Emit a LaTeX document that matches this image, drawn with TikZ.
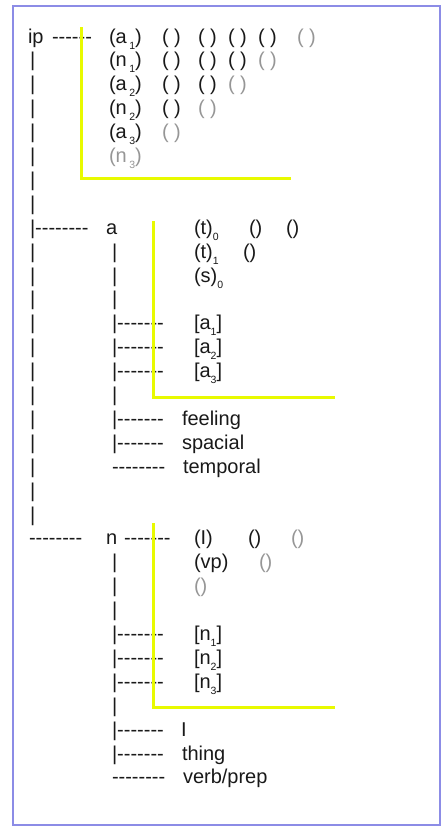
\documentclass[tikz,border=0pt]{standalone}
\usepackage{fontspec}
\setmainfont{Liberation Sans}[Ligatures=TeXOff]
\definecolor{frameblue}{RGB}{140,140,230}
\definecolor{hilite}{RGB}{232,250,0}
\definecolor{txtgray}{RGB}{150,150,150}
\newcommand\mysub[1]{\raisebox{-6pt}{\fontsize{10.5}{10.5}\selectfont #1}}
\newcommand\psb[2]{(#1\kern2.5pt\mysub{#2})}
\newcommand\bsb[2]{[#1\mysub{#2}]}
\begin{document}
\begin{tikzpicture}[x=1pt,y=-1pt,
  txt/.style={anchor=base west,inner sep=0pt,outer sep=0pt,font=\fontsize{20}{24}\selectfont,text=black!90},
  faint/.style={txt,text=txtgray},
  hl/.style={draw=hilite,line width=3pt},
  frm/.style={draw=frameblue,line width=2.5pt}]
\useasboundingbox (0,0) rectangle (442,827);
\draw[frm] (13,6) rectangle (440,825);
% ---------- ip block ----------
\node[txt] (ip) at (28,43) {ip};
\node[txt] (ipdash) at (52,43) {------};
\node[txt] (ra1) at (109,43) {\psb{a}{1}};
\node[txt] (r0c1) at (162,43) {( )};
\node[txt] (r0c2) at (198,43) {( )};
\node[txt] (r0c3) at (228,43) {( )};
\node[txt] (r0c4) at (258,43) {( )};
\node[faint] (r0c5) at (297,43) {( )};
\node[txt] (rn1) at (109,66.9) {\psb{n}{1}};
\node[txt] (r1c1) at (162,66.9) {( )};
\node[txt] (r1c2) at (198,66.9) {( )};
\node[txt] (r1c3) at (228,66.9) {( )};
\node[faint] (r1c4) at (258,66.9) {( )};
\node[txt] (ra2) at (109,90.8) {\psb{a}{2}};
\node[txt] (r2c1) at (162,90.8) {( )};
\node[txt] (r2c2) at (198,90.8) {( )};
\node[faint] (r2c3) at (228,90.8) {( )};
\node[txt] (rn2) at (109,114.7) {\psb{n}{2}};
\node[txt] (r3c1) at (162,114.7) {( )};
\node[faint] (r3c2) at (198,114.7) {( )};
\node[txt] (ra3) at (109,138.6) {\psb{a}{3}};
\node[faint] (r4c1) at (162,138.6) {( )};
\node[faint] (rn3) at (109,162.5) {\psb{n}{3}};
% ---------- left column bars ----------
\foreach \k in {1,...,7,9,10,...,20}
  \node[txt] (barL\k) at (30,{43+23.9*\k}) {|};
\node[txt] (brA) at (30,234.2) {|--------};
\node[txt] (brN) at (29,544.9) {--------};
% ---------- a block ----------
\node[txt] (a) at (106,234.2) {a};
\node[txt] (t0) at (194,234.2) {(t)\mysub{0}};
\node[txt] (t0c1) at (249,234.2) {()};
\node[txt] (t0c2) at (286,234.2) {()};
\node[txt] (t1) at (194,258.1) {(t)\mysub{1}};
\node[txt] (t1c1) at (243,258.1) {()};
\node[txt] (s0) at (194,282) {(s)\mysub{0}};
\foreach \k in {9,10,11,15}
  \node[txt] (barA\k) at (112,{43+23.9*\k}) {|};
\foreach \k/\s in {12/1,13/2,14/3}{
  \node[txt] (brA\k) at (112,{43+23.9*\k}) {|-------};
  \node[txt] (sa\s) at (194,{43+23.9*\k}) {\bsb{a}{\s}};
}
\node[txt] (brA16) at (112,425.4) {|-------};
\node[txt] (feeling) at (182,425.4) {feeling};
\node[txt] (brA17) at (112,449.3) {|-------};
\node[txt] (spacial) at (182,449.3) {spacial};
\node[txt] (brA18) at (112,473.2) {--------};
\node[txt] (temporal) at (183,473.2) {temporal};
% ---------- n block ----------
\node[txt] (n) at (106,544.9) {n};
\node[txt] (ndash) at (124,544.9) {-------};
\node[txt] (I1) at (194,544.9) {(I)};
\node[txt] (I1c1) at (248,544.9) {()};
\node[faint] (I1c2) at (291,544.9) {()};
\node[txt] (vp) at (194,568.8) {(vp)};
\node[faint] (vpc1) at (259,568.8) {()};
\node[faint] (e23) at (194,592.7) {()};
\foreach \k in {22,23,24,28}
  \node[txt] (barN\k) at (112,{43+23.9*\k}) {|};
\foreach \k/\s in {25/1,26/2,27/3}{
  \node[txt] (brN\k) at (112,{43+23.9*\k}) {|-------};
  \node[txt] (sn\s) at (194,{43+23.9*\k}) {\bsb{n}{\s}};
}
\node[txt] (brN29) at (112,736.1) {|-------};
\node[txt] (Iword) at (181,736.1) {I};
\node[txt] (brN30) at (112,760) {|-------};
\node[txt] (thing) at (182,760) {thing};
\node[txt] (brN31) at (112,783.9) {--------};
\node[txt] (verbprep) at (183,783.9) {verb/prep};
% ---------- yellow highlight corners ----------
\draw[hl] (81,27) -- (81,178) -- (291,178);
\draw[hl] (153,221) -- (153,397) -- (335,397);
\draw[hl] (153,523) -- (153,707) -- (335,707);
\end{tikzpicture}
\end{document}
